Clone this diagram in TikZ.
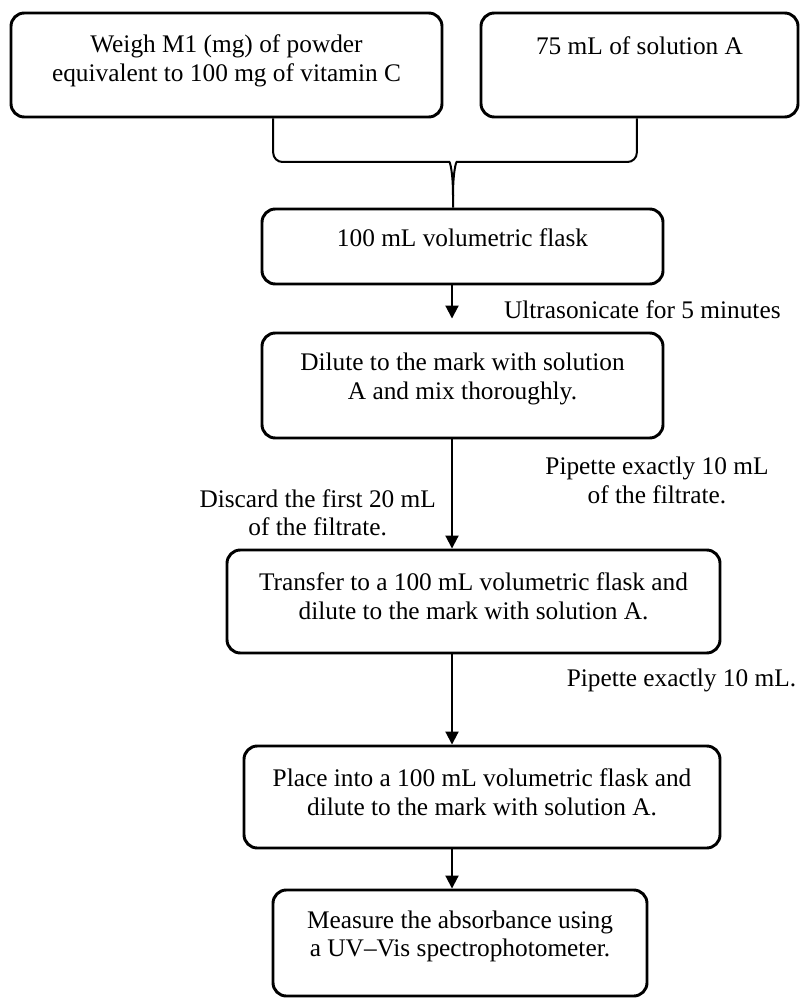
\documentclass[tikz,border=0pt]{standalone}
\usepackage{fontspec}
\setmainfont{Liberation Serif}
\usetikzlibrary{arrows.meta,positioning}

\newcommand{\pushup}[1]{\rule[-#1]{0pt}{#1}}

\begin{document}
\begin{tikzpicture}[x=0.75pt,y=-0.75pt,
	stepbox/.style={draw,rounded corners=10pt,line width=2.2pt,align=center,inner sep=0pt,font=\fontsize{19}{21.5}\selectfont},
	flow/.style={line width=1.5pt,-{Triangle[width=9.75pt,length=9.75pt]}},
	brace/.style={line width=1.5pt},
	note/.style={font=\fontsize{19}{21.5}\selectfont,align=center}]
	\useasboundingbox (0,0) rectangle (802,998);

	\node[stepbox,minimum width=323.25pt,minimum height=78pt] (wgh) at (226.5,65) {Weigh M1 (mg) of powder\\equivalent to 100 mg of vitamin C\pushup{10.8pt}};

	\node[stepbox,minimum width=237.75pt,minimum height=78pt] (sol) at (639.5,65) {75 mL of solution A\pushup{28.5pt}};

	\node[stepbox,minimum width=300.75pt,minimum height=56.25pt] (flask) at (462.5,246.5) {100 mL volumetric flask\pushup{12.8pt}};

	\node[stepbox,minimum width=300.75pt,minimum height=78.75pt] (dil) at (462.5,385.5) {Dilute to the mark with solution\\A and mix thoroughly.\pushup{13.8pt}};

	\node[stepbox,minimum width=369.75pt,minimum height=77.25pt] (xfer) at (473.5,601.5) {Transfer to a 100 mL volumetric flask and\\dilute to the mark with solution A.\pushup{8.2pt}};

	\node[stepbox,minimum width=357pt,minimum height=76.5pt] (place) at (482,797) {Place into a 100 mL volumetric flask and\\dilute to the mark with solution A.\pushup{7.5pt}};

	\node[stepbox,minimum width=280.5pt,minimum height=79.5pt] (meas) at (460,943) {Measure the absorbance using\\a UV--Vis spectrophotometer.\pushup{13.8pt}};

	\coordinate (bar) at (453,162);
	\coordinate (cusp) at (453,196);
	\coordinate (axis) at (452,0);

	\draw[brace] ([xshift=35pt]wgh.south) [rounded corners=7pt] |- ([xshift=-9.75pt]bar) [sharp corners] .. controls ([xshift=-2.25pt]bar) and ([yshift=-7.5pt]bar) .. (cusp) -- (cusp |- flask.north);
	\draw[brace] ([xshift=-2pt]sol.south) [rounded corners=7pt] |- ([xshift=9.75pt]bar) [sharp corners] .. controls ([xshift=2.25pt]bar) and ([yshift=-7.5pt]bar) .. (cusp);

	\draw[flow] (flask.south -| axis) -- ([yshift=9.75pt]dil.north -| axis) node[note,right=35pt,midway,yshift=-6pt] {Ultrasonicate for 5 minutes};

	\draw[flow] (dil.south -| axis) -- (xfer.north -| axis) node[note,right=66pt,midway,yshift=10pt] {Pipette exactly 10 mL\\of the filtrate.} node[note,left=8pt,midway,yshift=-14pt] {Discard the first 20 mL\\of the filtrate.};

	\draw[flow] (xfer.south -| axis) -- (place.north -| axis) node[note,right=82pt,midway,yshift=14pt] {Pipette exactly 10 mL.};

	\draw[flow] (place.south -| axis) -- (meas.north -| axis);
\end{tikzpicture}
\end{document}
